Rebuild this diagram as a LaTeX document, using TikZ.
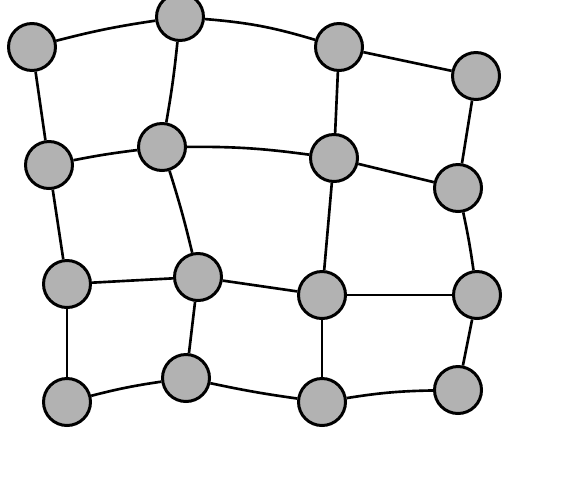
\documentclass[tikz,border=0pt]{standalone}
\usepackage{tikz}

\begin{document}
\begin{tikzpicture}[x=.02cm, y=-.02cm,
  vertex/.style={circle, draw, fill={rgb,255:red,178;green,178;blue,178},
    line width=1.7pt, minimum size=.94cm, inner sep=0pt},
  link/.style={line width=1.5pt}]
\useasboundingbox (0,0) rectangle (570,484);
% Row 1
\node[vertex] (a11) at (32,47) {};
\node[vertex] (a12) at (180,17) {};
\node[vertex] (a13) at (339,47) {};
\node[vertex] (a14) at (476,76) {};
% Row 2
\node[vertex] (a21) at (49,165) {};
\node[vertex] (a22) at (162,147) {};
\node[vertex] (a23) at (334,158) {};
\node[vertex] (a24) at (458,188) {};
% Row 3
\node[vertex] (a31) at (67,284) {};
\node[vertex] (a32) at (198,277) {};
\node[vertex] (a33) at (322,295) {};
\node[vertex] (a34) at (477,295) {};
% Row 4
\node[vertex] (a41) at (67,402) {};
\node[vertex] (a42) at (186,378) {};
\node[vertex] (a43) at (322,402) {};
\node[vertex] (a44) at (458,390) {};
% Horizontal links
\draw[link] (a11) to[bend left=3] (a12);
\draw[link] (a12) to[bend left=6] (a13);
\draw[link] (a13) -- (a14);
\draw[link] (a21) to[bend left=2] (a22);
\draw[link] (a22) to[bend left=4] (a23);
\draw[link] (a23) -- (a24);
\draw[link] (a31) -- (a32);
\draw[link] (a32) -- (a33);
\draw[link] (a33) -- (a34);
\draw[link] (a41) to[bend left=3] (a42);
\draw[link] (a42) to[bend right=2] (a43);
\draw[link] (a43) to[bend left=4] (a44);
% Vertical links
\draw[link] (a11) -- (a21);
\draw[link] (a21) -- (a31);
\draw[link] (a31) -- (a41);
\draw[link] (a12) to[bend left=2] (a22);
\draw[link] (a22) to[bend left=2] (a32);
\draw[link] (a32) -- (a42);
\draw[link] (a13) -- (a23);
\draw[link] (a23) -- (a33);
\draw[link] (a33) -- (a43);
\draw[link] (a14) -- (a24);
\draw[link] (a24) to[bend left=2] (a34);
\draw[link] (a34) -- (a44);
\end{tikzpicture}
\end{document}
